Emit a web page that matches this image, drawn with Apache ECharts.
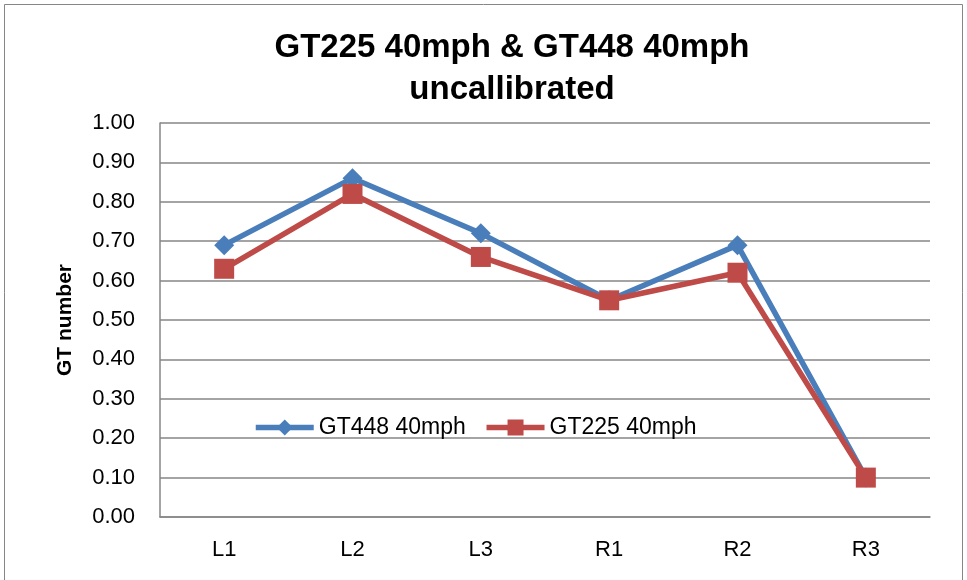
<!DOCTYPE html>
<html>
<head>
<meta charset="utf-8">
<script src="https://cdn.jsdelivr.net/npm/echarts@6/dist/echarts.min.js"></script>
<style>
html, body { margin: 0; padding: 0; background: #fff; }
#chart { width: 967px; height: 580px; }
</style>
</head>
<body>
<div id="chart"></div>
<script>
var categories = ['L1', 'L2', 'L3', 'R1', 'R2', 'R3'];
var gt448 = [0.69, 0.86, 0.72, 0.55, 0.69, 0.10];
var gt225 = [0.63, 0.82, 0.66, 0.55, 0.62, 0.10];

var chart = echarts.init(document.getElementById('chart'));

var option = {
	backgroundColor: '#fff',
	animation: false,
	title: {
		text: 'GT225 40mph & GT448 40mph\nuncallibrated',
		left: 507,
		textAlign: 'center',
		top: 22,
		textStyle: {
			fontFamily: 'Liberation Sans',
			fontWeight: 'bold',
			fontSize: 33,
			lineHeight: 42,
			color: '#000'
		}
	},
	graphic: [{
		type: 'rect',
		shape: { x: 4.5, y: 4.5, width: 958, height: 590 },
		style: { fill: null, stroke: '#868686', lineWidth: 1 }
	}],
	legend: {
		left: 248,
		top: 411,
		itemWidth: 58,
		itemHeight: 20,
		itemGap: 18,
		lineStyle: { width: 5.5 },
		textStyle: { fontFamily: 'Liberation Sans', fontSize: 23, color: '#000' },
		data: ['GT448 40mph', 'GT225 40mph']
	},
	grid: { left: 160, right: 37, top: 123, bottom: 63 },
	xAxis: {
		type: 'category',
		data: categories,
		axisLine: { lineStyle: { color: '#868686', width: 1.5 } },
		axisTick: { show: false },
		axisLabel: { fontFamily: 'Liberation Sans', fontSize: 22, color: '#000', margin: 22 }
	},
	yAxis: {
		type: 'value',
		min: 0,
		max: 1,
		interval: 0.1,
		name: 'GT number',
		nameLocation: 'middle',
		nameGap: 84,
		nameTextStyle: { fontFamily: 'Liberation Sans', fontWeight: 'bold', fontSize: 21, color: '#000' },
		axisLine: { show: true, lineStyle: { color: '#868686', width: 1.5 } },
		axisTick: { show: false },
		splitLine: { lineStyle: { color: '#868686', width: 1.5 } },
		axisLabel: {
			fontFamily: 'Liberation Sans', fontSize: 22, color: '#000', margin: 25,
			formatter: function (v) { return v.toFixed(2); }
		}
	},
	series: [{
		name: 'GT448 40mph',
		type: 'line',
		data: gt448,
		symbol: 'diamond',
		symbolSize: 20,
		color: '#4a7ebb',
		lineStyle: { width: 5.5, color: '#4a7ebb' },
		itemStyle: { color: '#4a7ebb' }
	}, {
		name: 'GT225 40mph',
		type: 'line',
		data: gt225,
		symbol: 'rect',
		symbolSize: 20,
		color: '#be4b48',
		lineStyle: { width: 5.5, color: '#be4b48' },
		itemStyle: { color: '#be4b48' }
	}]
};
chart.setOption(option);
</script>
</body>
</html>
